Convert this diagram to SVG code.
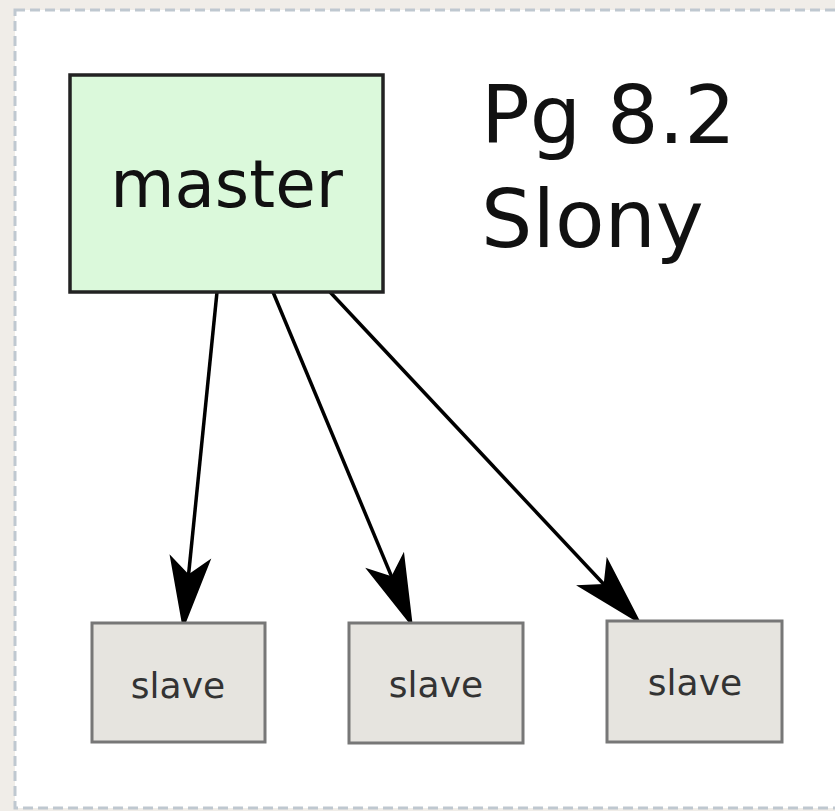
<svg xmlns="http://www.w3.org/2000/svg" width="835" height="811" viewBox="0 0 835 811">
  <style>
    .label { font-family: "DejaVu Sans", "Liberation Sans", sans-serif; text-anchor: middle; }
    .master rect { fill: #dbf9db; stroke: #222; stroke-width: 3.5; }
    .master text { font-size: 66px; fill: #111; }
    .slave rect { fill: #e6e4df; stroke: #777; stroke-width: 3; }
    .slave text { font-size: 36px; fill: #333; }
    .edge { stroke: #000; stroke-width: 3.5; fill: none; marker-end: url(#head); }
    .title { font-family: "DejaVu Sans", "Liberation Sans", sans-serif; font-size: 81px; fill: #111; }
  </style>
  <defs>
    <!-- concave arrowhead; tip sits 50px past the line end -->
    <marker id="head" markerUnits="userSpaceOnUse" viewBox="-26 -24 78 48" markerWidth="78" markerHeight="48" refX="0" refY="0" orient="auto">
      <path d="M50,0 L-24,-21 L-6,0 L-24,21 Z" fill="#000"/>
    </marker>
  </defs>

  <!-- page background and dashed frame -->
  <rect x="0" y="0" width="835" height="811" fill="#f0ede8"/>
  <rect x="15" y="10" width="840" height="798" fill="#fff" stroke="#bfc8d0" stroke-width="3" stroke-dasharray="10 5"/>

  <!-- connectors -->
  <g id="edges">
    <line class="edge" x1="217" y1="292" x2="188" y2="580.3"/>
    <line class="edge" x1="273" y1="292" x2="393.8" y2="581.9"/>
    <line class="edge" x1="330" y1="292" x2="607.8" y2="588.5"/>
  </g>

  <g id="master" class="master">
    <rect x="70" y="75" width="313" height="217"/>
    <text class="label" x="226.5" y="207">master</text>
  </g>

  <g id="slave1" class="slave">
    <rect x="92" y="623" width="173" height="119"/>
    <text class="label" x="178" y="698">slave</text>
  </g>
  <g id="slave2" class="slave">
    <rect x="349" y="623" width="174" height="120"/>
    <text class="label" x="436" y="697">slave</text>
  </g>
  <g id="slave3" class="slave">
    <rect x="607" y="621" width="175" height="121"/>
    <text class="label" x="695" y="695">slave</text>
  </g>

  <g id="caption">
    <text class="title" x="481" y="143">Pg 8.2</text>
    <text class="title" x="481" y="247">Slony</text>
  </g>
</svg>
